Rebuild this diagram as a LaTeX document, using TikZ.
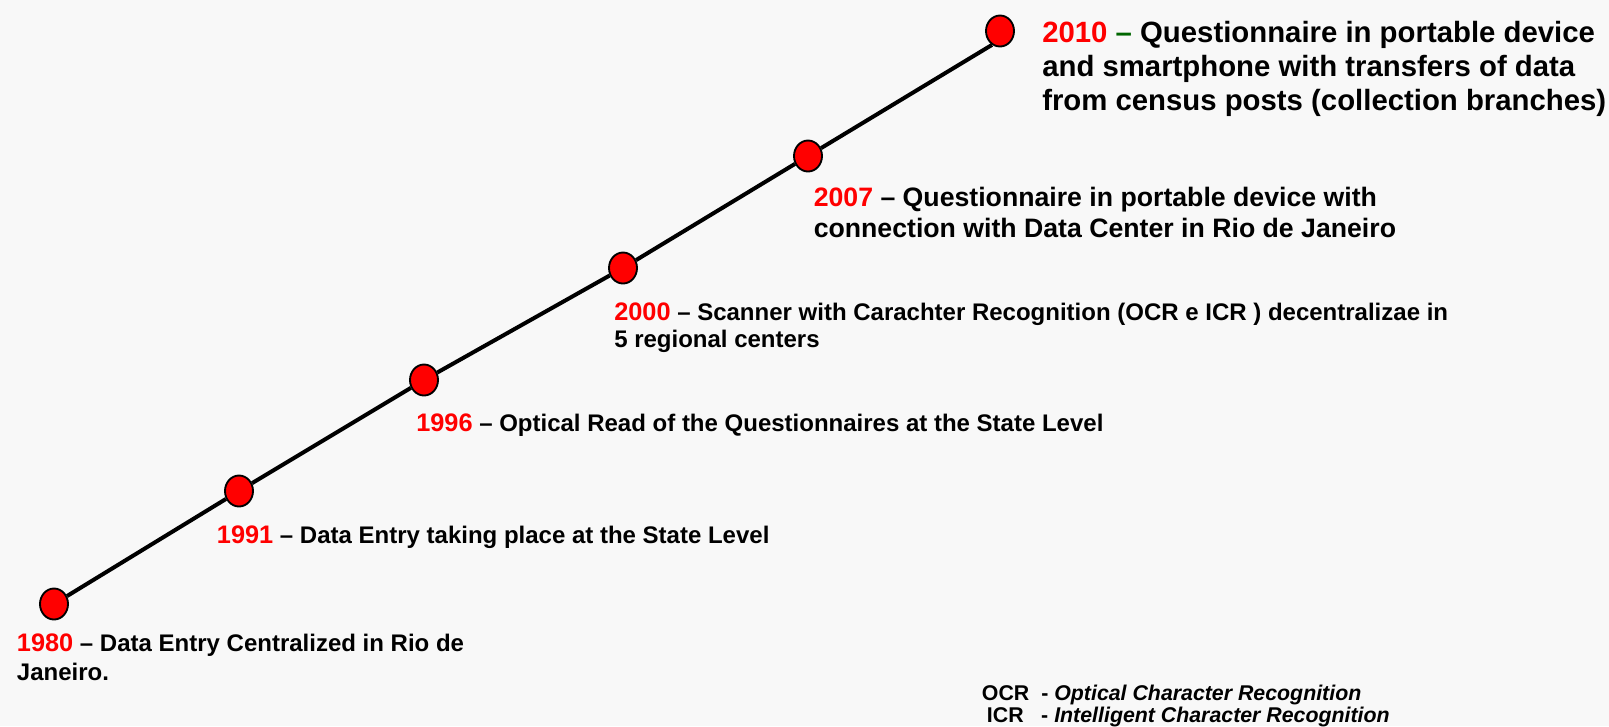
\documentclass[tikz,border=0pt]{standalone}
\usepackage{fontspec}
\setmainfont{Liberation Sans}
\usetikzlibrary{shapes.geometric}
\definecolor{paper}{RGB}{248,248,248}
\definecolor{dashGreen}{RGB}{0,102,0}
\colorlet{penColor}{black}
\tikzset{
  milestone/.style={ellipse, draw=penColor, line width=1.4pt, fill=red,
    minimum width=21pt, minimum height=23.25pt, inner sep=0pt},
  entry/.style={anchor=base west, inner sep=0pt, align=left,
    font=\bfseries\fontsize{18}{20.6}\selectfont},
}
\newcommand{\yr}[1]{\textcolor{red}{#1}}
\newcommand{\yrb}[1]{{\fontsize{19}{19}\selectfont\yr{#1}}}

\begin{document}
\begin{tikzpicture}[x=0.75pt,y=-0.75pt]
		\useasboundingbox (0,0) rectangle (1609,726);
		\fill [paper] (0,0) rectangle (1609,726);
		% milestones
		\node [milestone] (c1980) at (54,604) {};
		\node [milestone] (c1991) at (239,491) {};
		\node [milestone] (c1996) at (424,380) {};
		\node [milestone] (c2000) at (623,268) {};
		\node [milestone] (c2007) at (808,156) {};
		\node [milestone] (c2010) at (1000,31) {};
		% timeline
		\draw [penColor, line width=3pt] (c1980) -- (c1991);
		\draw [penColor, line width=3pt] (c1991) -- (c1996);
		\draw [penColor, line width=3pt] (c1996) -- (c2000);
		\draw [penColor, line width=3pt] (c2000) -- (c2007);
		\draw [penColor, line width=3pt] (c2007) -- (c2010.240);
		% texts (base = last line)
		\node [entry, font=\bfseries\fontsize{22}{25.5}\selectfont] (t2010) at (1042,110)
			{\yr{2010} \textcolor{dashGreen}{--} Questionnaire in portable device\\
			and smartphone with transfers of data\\
			from census posts (collection branches)};
		\node [entry, font=\bfseries\fontsize{20}{23.25}\selectfont] (t2007) at (813.5,237)
			{\yr{2007} -- Questionnaire in portable device with\\
			connection with Data Center in Rio de Janeiro};
		\node [entry] (t2000) at (614,347.5)
			{\yrb{2000} -- Scanner with Carachter Recognition (OCR e ICR ) decentralizae in\\
			5 regional centers};
		\node [entry] (t1996) at (416,431.7)
			{\yrb{1996} -- Optical Read of the Questionnaires at the State Level};
		\node [entry] (t1991) at (216.7,543)
			{\yrb{1991} -- Data Entry taking place at the State Level};
		\node [entry, font=\bfseries\fontsize{18}{21.5}\selectfont] (t1980) at (16.7,680.4)
			{\yrb{1980} -- Data Entry Centralized in Rio de\\
			Janeiro.};
		% abbreviations
		\node [entry, font=\bfseries\fontsize{16}{17}\selectfont] (ocr) at (981.7,700)
			{\makebox[44.5pt][l]{OCR}- \textit{Optical Character Recognition}};
		\node [entry, font=\bfseries\fontsize{16}{17}\selectfont] (icr) at (986.7,722.7)
			{\makebox[40.7pt][l]{ICR}- \textit{Intelligent Character Recognition}};
		\end{tikzpicture}
\end{document}
